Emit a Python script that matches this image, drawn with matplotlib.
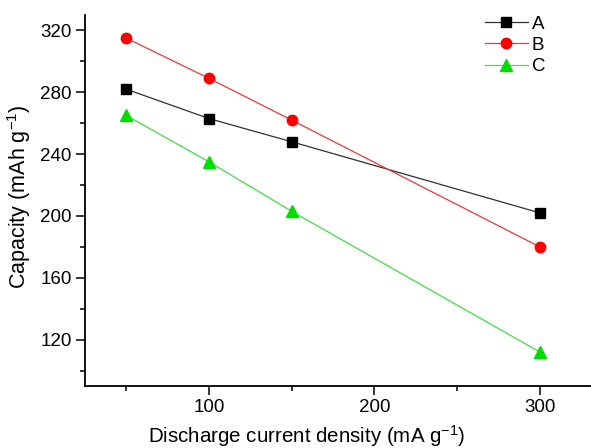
import matplotlib
matplotlib.use("Agg")
import matplotlib.pyplot as plt
from matplotlib.ticker import MultipleLocator

plt.rcParams['font.family'] = ['Liberation Sans', 'DejaVu Sans']
plt.rcParams['mathtext.fontset'] = 'custom'
plt.rcParams['mathtext.rm'] = 'Liberation Sans'
plt.rcParams['mathtext.it'] = 'Liberation Sans'
plt.rcParams['mathtext.default'] = 'regular'

x = [50, 100, 150, 300]
A = [282, 263, 248, 202]
B = [315, 289, 262, 180]
C = [265, 235, 203, 112]

fig = plt.figure(figsize=(5.91, 4.48), dpi=100)
ax = fig.add_axes([0.1438, 0.1384, 0.8562, 0.8281])

ax.plot(x, A, color='#303030', lw=0.9, marker='s', ms=6.5, mfc='black', mec='black', label='A')
ax.plot(x, B, color='#e83a3a', lw=0.9, marker='o', ms=7.5, mfc='red', mec='red', label='B')
ax.plot(x, C, color='#40e040', lw=0.9, marker='^', ms=8, mfc='#00dd00', mec='#00dd00', label='C')

ax.set_xlim(25, 331)
ax.set_ylim(90, 330)
ax.xaxis.set_major_locator(MultipleLocator(100))
ax.xaxis.set_minor_locator(MultipleLocator(50))
ax.yaxis.set_major_locator(MultipleLocator(40))
ax.yaxis.set_minor_locator(MultipleLocator(20))
for s in ['top', 'right']:
    ax.spines[s].set_visible(False)
for s in ['left', 'bottom']:
    ax.spines[s].set_linewidth(1.3)
ax.tick_params(which='major', direction='out', length=6.5, width=1.1, labelsize=13.5, pad=3)
ax.tick_params(which='minor', direction='out', length=3.5, width=1.1)

ax.set_xlabel('Discharge current density (mA g$^{-1}$)', fontsize=14.8)
ax.set_ylabel('Capacity (mAh g$^{-1}$)', fontsize=15.5)
ax.xaxis.set_label_coords(0.439, -0.100)
ax.yaxis.set_label_coords(-0.103, 0.51)

ax.legend(loc='upper right', bbox_to_anchor=(0.924, 1.019), borderaxespad=0, frameon=False, fontsize=13.5,
          handlelength=2.3, handletextpad=0.2, labelspacing=0.22)

fig.savefig('out.png', dpi=100)
